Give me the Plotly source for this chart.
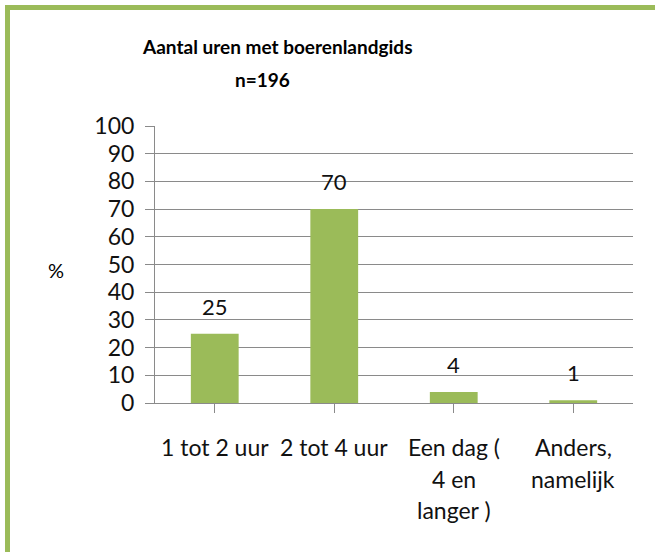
import plotly.graph_objects as go

categories = ["1 tot 2 uur", "2 tot 4 uur", "Een dag (<br>4 en<br>langer )", "Anders,<br>namelijk"]
values = [25, 70, 4, 1]
y_ticks = [0, 10, 20, 30, 40, 50, 60, 70, 80, 90, 100]
title_line1 = "Aantal uren met boerenlandgids"
title_line2 = "n=196"

W, H = 655, 552
L, R, T, B = 155, 22, 126, 149
FONT = "Lato, 'Open Sans', sans-serif"
GREEN = "#9BBB59"
GRID = "#8a8a8a"

fig = go.Figure()
fig.add_trace(go.Bar(x=list(range(len(categories))), y=values, marker=dict(color=GREEN, line=dict(width=0)),
                     width=0.4, showlegend=False, hoverinfo="skip"))

for i, v in enumerate(values):
    fig.add_annotation(x=i, y=v, xref="x", yref="y", text=str(v), showarrow=False,
                       yanchor="bottom", yshift=12, font=dict(family=FONT, size=22, color="#111"))

def px_x(p):
    return (p - L) / (W - L - R)

def px_y(p):
    return 1 - (p - T) / (H - T - B)

# category labels, one annotation per line for the original line spacing
for i, cat in enumerate(categories):
    for j, line in enumerate(cat.split("<br>")):
        fig.add_annotation(x=i, xref="x", y=px_y(447 + 31.5 * j), yref="paper", text=line, showarrow=False,
                           xanchor="center", yanchor="middle", font=dict(family=FONT, size=23, color="#111"))

fig.add_annotation(x=px_x(277), y=px_y(47), xref="paper", yref="paper", text=f"<b>{title_line1}</b>",
                   showarrow=False, xanchor="center", yanchor="middle", font=dict(family=FONT, size=19, color="#000"))
fig.add_annotation(x=px_x(262), y=px_y(79), xref="paper", yref="paper", text=f"<b>{title_line2}</b>",
                   showarrow=False, xanchor="center", yanchor="middle", font=dict(family=FONT, size=19, color="#000"))
fig.add_annotation(x=px_x(56), y=px_y(270), xref="paper", yref="paper", text="%",
                   showarrow=False, xanchor="center", yanchor="middle", font=dict(family=FONT, size=20, color="#000"))

# green frame (top and left)
fig.add_shape(type="line", xref="paper", yref="paper", x0=px_x(5), x1=px_x(660), y0=px_y(7.5), y1=px_y(7.5),
              line=dict(color=GREEN, width=5))
fig.add_shape(type="line", xref="paper", yref="paper", x0=px_x(7.5), x1=px_x(7.5), y0=px_y(5), y1=px_y(560),
              line=dict(color=GREEN, width=5))

fig.update_layout(
    width=W, height=H,
    margin=dict(l=L, r=R, t=T, b=B, pad=0),
    paper_bgcolor="white", plot_bgcolor="white",
    bargap=0.6,
    font=dict(family=FONT, color="#111"),
    xaxis=dict(range=[-0.5, 3.5], tickmode="array", tickvals=list(range(len(categories))), ticktext=categories,
               showticklabels=False,
               tickson="boundaries", ticks="outside", ticklen=9, tickcolor=GRID, tickwidth=1,
               showline=True, linecolor=GRID, linewidth=1, showgrid=False, zeroline=False, fixedrange=True),
    yaxis=dict(range=[0, 100], tickmode="array", tickvals=y_ticks, ticks="outside", ticklen=9,
               tickcolor=GRID, showline=True, linecolor=GRID, linewidth=1, showgrid=True, gridcolor=GRID,
               gridwidth=1, zeroline=False, tickfont=dict(family=FONT, size=23, color="#111"),
               ticklabelstandoff=6, fixedrange=True),
)

fig.write_html("out.html", config={"displayModeBar": False},
               post_script="document.body.style.margin='0';document.body.style.overflow='hidden';")
